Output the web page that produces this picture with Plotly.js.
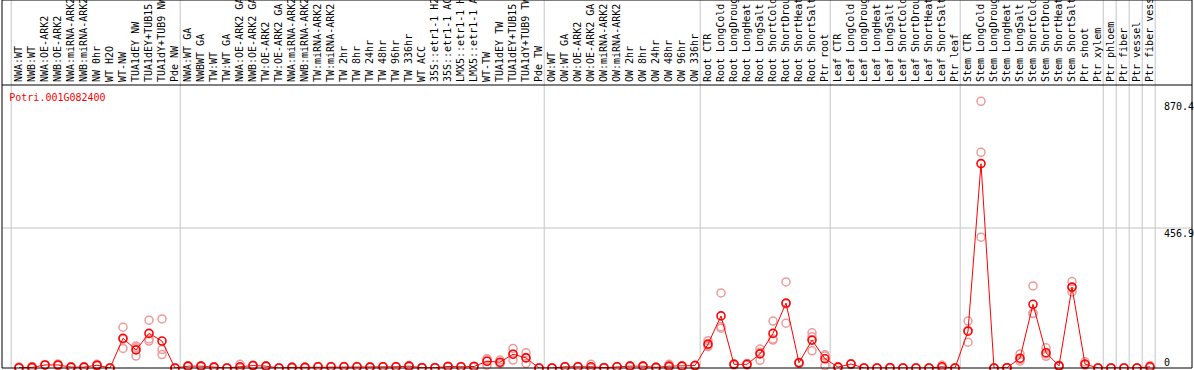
<!DOCTYPE html>
<html>
<head>
<meta charset="utf-8">
<script src="https://cdn.plot.ly/plotly-3.0.1.min.js"></script>
<style>html,body{margin:0;padding:0;background:#fff;}#chart{width:1194px;height:370px;}</style>
</head>
<body>
<div id="chart"></div>
<script>
// ---- data ----
const geneId = 'Potri.001G082400';

const sampleLabels = [
  'NWA:WT','NWB:WT','NWA:OE-ARK2','NWB:OE-ARK2','NWA:miRNA-ARK2','NWB:miRNA-ARK2','NW 0hr','WT H2O','WT-NW','TUA1dEY NW','TUA1dEY+TUB15','TUA1dY+TUB9 NW','Pde NW',
  'NWA:WT GA','NWBWT GA','TW:WT','TW:WT GA','NWA:OE-ARK2 GA','NWB:OE-ARK2 GA','TW:OE-ARK2','TW:OE-ARK2 GA','NWA:miRNA-ARK2','NWB:miRNA-ARK2','TW:miRNA-ARK2','TW:miRNA-ARK2','TW 2hr','TW 8hr','TW 24hr','TW 48hr','TW 96hr','TW 336hr','WT ACC','35S::etr1-1 H2','35S::etr1-1 AC','LMX5::etr1-1 H','LMX5::etr1-1 A','WT-TW','TUA1dEY TW','TUA1dEY+TUB15','TUA1dY+TUB9 TW','Pde TW',
  'OW:WT','OW:WT GA','OW:OE-ARK2','OW:OE-ARK2 GA','OW:miRNA-ARK2','OW:miRNA-ARK2','OW 2hr','OW 8hr','OW 24hr','OW 48hr','OW 96hr','OW 336hr',
  'Root CTR','Root LongCold','Root LongDroug','Root LongHeat','Root LongSalt','Root ShortCold','Root ShortDrou','Root ShortHeat','Root ShortSalt','Ptr root',
  'Leaf CTR','Leaf LongCold','Leaf LongDroug','Leaf LongHeat','Leaf LongSalt','Leaf ShortCold','Leaf ShortDrou','Leaf ShortHeat','Leaf ShortSalt','Ptr leaf',
  'Stem CTR','Stem LongCold','Stem LongDroug','Stem LongHeat','Stem LongSalt','Stem ShortCold','Stem ShortDrou','Stem ShortHeat','Stem ShortSalt','Ptr shoot',
  'Ptr xylem','Ptr phloem','Ptr fiber','Ptr vessel','Ptr fiber vess'
];

// number of samples in each separated block
const groupSizes = [13, 28, 12, 10, 10, 11, 1, 1, 1, 1];

const meanValues = [
  1,2,10,10,3,3,9,0,97,59,113,88,0,
  6,6,3,0,4,8,6,0,2,2,4,4,4,4,3,4,4,6,1,1,5,4,5,22,19,45,33,0,
  0,4,4,4,1,4,6,6,2,6,6,8,
  78,170,12,12,46,113,212,17,91,30,
  3,13,0,0,1,0,0,0,4,0,
  120,667,0,1,32,208,50,7,264,13,
  0,0,0,0,4
];

const rep1 = [
  0,0,9,8,2,2,7,0,133,72,156,160,0,
  5,5,2,0,1,7,5,0,1,1,3,3,3,3,2,3,3,5,0,0,4,3,4,30,26,64,50,0,
  0,3,3,12,0,3,5,5,1,12,5,7,
  89,245,10,10,62,153,281,15,115,43,
  2,12,0,0,0,0,0,0,9,0,
  153,870.4,0,0,46,268,66,5,282,20,
  0,0,0,0,8
];
const rep2 = [
  3,5,11,13,4,4,12,0,64,39,95,60,0,
  7,7,4,0,12,9,7,0,3,3,5,5,5,5,4,5,5,8,2,2,6,5,6,9,14,26,15,0,
  0,5,5,0,2,5,7,7,3,3,7,9,
  70,130,14,15,25,91,146,19,56,8,
  4,14,0,0,2,0,0,0,1,0,
  84,704,0,2,22,178,46,9,248,10,
  0,0,0,0,2
];
const rep3 = [
  0,1,10,9,3,3,8,0,94,66,88,44,0,
  6,6,3,0,0,8,6,0,2,2,4,4,4,4,3,4,4,5,1,1,5,4,5,27,17,45,34,0,
  0,4,4,0,1,4,6,6,2,3,6,8,
  75,135,12,11,51,95,209,17,102,39,
  3,13,0,0,1,0,0,0,2,0,
  123,427,0,1,28,178,38,7,262,9,
  0,0,0,0,2
];

const yTickValues = [0, 456.9, 870.4];
const yTickText = ['0', '456.9', '870.4'];

// ---- build ----
const idx = sampleLabels.map((_, i) => i);
const mono = 'DejaVu Sans Mono, Liberation Mono, monospace';
const pale = '#ef9a9a';

const repTrace = (vals) => ({
  x: idx, y: vals, type: 'scatter', mode: 'markers', cliponaxis: false, hoverinfo: 'skip',
  marker: {symbol: 'circle-open', size: 8, color: pale, line: {width: 1.5, color: pale}}
});

const traces = [
  repTrace(rep1), repTrace(rep2), repTrace(rep3),
  {
    x: idx, y: meanValues, type: 'scatter', mode: 'lines+markers', cliponaxis: false, yaxis: 'y2',
    line: {color: '#ff0000', width: 1},
    marker: {symbol: 'circle-open', size: 8, color: '#ff0000', line: {width: 1.6, color: '#ff0000'}}
  }
];

// pixel geometry
const W = 1194, H = 370;
const mL = 2, mR = 34, mT = 85, mB = 2;
const plotW = W - mL - mR, plotH = H - mT - mB;
const xPaperRight = (1192 - mL) / plotW;
const yPaperTop = (H - mB) / plotH;
const yRange = [0, plotH / (140 / 456.9)];

const shapes = [];
let b = -0.5;
const bounds = [b];
groupSizes.forEach(g => { b += g; bounds.push(b); });
bounds.forEach(v => shapes.push({
  type: 'line', xref: 'x', yref: 'paper', x0: v - 0.1, x1: v - 0.1, y0: 0, y1: yPaperTop,
  line: {color: '#c4c4c4', width: 1}, layer: 'below'
}));
shapes.push({
  type: 'line', xref: 'paper', yref: 'y', x0: 0, x1: xPaperRight, y0: yTickValues[1], y1: yTickValues[1],
  line: {color: '#c4c4c4', width: 1}, layer: 'below'
});
// outer frame and header separator
shapes.push({type: 'rect', xref: 'paper', yref: 'paper', x0: 0, x1: xPaperRight, y0: 0, y1: yPaperTop,
  line: {color: '#000', width: 1}, fillcolor: 'rgba(0,0,0,0)', layer: 'above'});
shapes.push({type: 'line', xref: 'paper', yref: 'paper', x0: 0, x1: xPaperRight, y0: 1, y1: 1,
  line: {color: '#000', width: 1}, layer: 'above'});

const yTickFont = {family: mono, size: 10, color: '#000'};

const layout = {
  width: W, height: H,
  margin: {l: mL, r: mR, t: mT, b: mB, pad: 0},
  paper_bgcolor: '#fff', plot_bgcolor: '#fff',
  showlegend: false,
  title: {
    text: geneId, font: {family: mono, size: 10, color: '#ff0000'},
    xref: 'paper', x: 0.0063, xanchor: 'left',
    yref: 'container', y: 1 - 97 / H, yanchor: 'middle'
  },
  xaxis: {
    range: [-1.3077, -1.3077 + plotW / 13], side: 'top',
    tickmode: 'array', tickvals: idx, ticktext: sampleLabels, tickangle: -90,
    tickfont: {family: mono, size: 10, color: '#000'},
    ticks: '', ticklabelstandoff: 2, ticklabeloverflow: 'allow',
    showgrid: false, zeroline: false, showline: false, fixedrange: true
  },
  // upper value labels (sit just below their level)
  yaxis: {
    range: yRange, side: 'right',
    tickmode: 'array', tickvals: yTickValues.slice(1), ticktext: yTickText.slice(1),
    tickfont: yTickFont, ticks: '', ticklabelstandoff: 3, ticklabelshift: 5,
    ticklabeloverflow: 'allow',
    showgrid: false, zeroline: false, showline: false, fixedrange: true
  },
  // zero label (sits just above the baseline)
  yaxis2: {
    range: yRange, side: 'right', overlaying: 'y', anchor: 'x',
    tickmode: 'array', tickvals: yTickValues.slice(0, 1), ticktext: yTickText.slice(0, 1),
    tickfont: yTickFont, ticks: '', ticklabelstandoff: 3, ticklabelshift: -6,
    ticklabeloverflow: 'allow',
    showgrid: false, zeroline: false, showline: false, fixedrange: true
  },
  shapes: shapes
};

Plotly.newPlot('chart', traces, layout, {displayModeBar: false, staticPlot: true});
</script>
</body>
</html>
